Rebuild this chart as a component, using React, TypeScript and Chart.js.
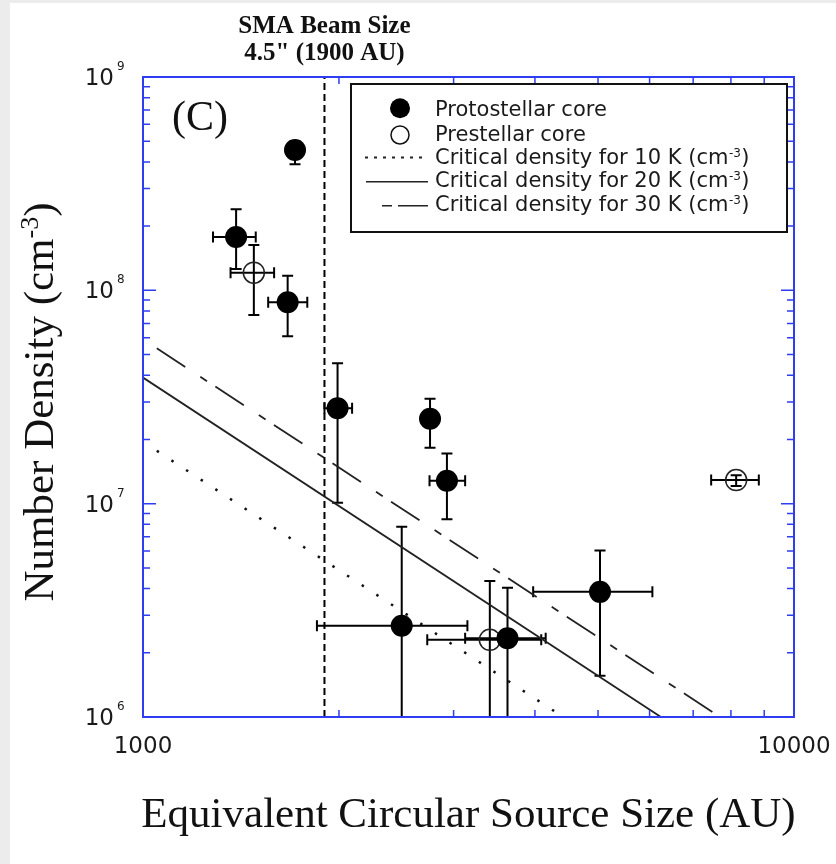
import React, { useEffect, useRef } from "react";
import { Chart, registerables } from "chart.js";
Chart.register(...registerables);

// Protostellar cores (filled)
const protoX = [1712, 1390, 1668, 1990, 2760, 2930, 2497, 3630, 5035];
const protoY = [4.55e8, 1.78e8, 8.8e7, 2.8e7, 2.5e7, 1.28e7, 2.68e6, 2.34e6, 3.86e6];
const protoYLow = [3.9e8, 1.26e8, 6.1e7, 1.01e7, 1.83e7, 8.45e6, 8e5, 8e5, 1.56e6];
const protoYHigh = [5.0e8, 2.4e8, 1.17e8, 4.55e7, 3.1e7, 1.72e7, 7.8e6, 4.04e6, 6.04e6];
const protoXLow = [null, 1281, 1557, 1900, null, 2755, 1850, 3125, 3975];
const protoXHigh = [null, 1490, 1788, 2095, null, 3125, 3150, 4155, 6060];

// Prestellar cores (open)
const preX = [1480, 3410, 8150];
const preY = [1.21e8, 2.3e6, 1.29e7];
const preYLow = [7.66e7, 8e5, 1.21e7];
const preYHigh = [1.63e8, 4.34e6, 1.36e7];
const preXLow = [1363, 2733, 7460];
const preXHigh = [1590, 4090, 8830];

// Critical density lines (endpoints)
const crit10X = [1050, 4420];
const crit10Y = [1.77e7, 1e6];
const crit20X = [1000, 6245];
const crit20Y = [3.9e7, 1e6];
const crit30X = [1050, 7700];
const crit30Y = [5.35e7, 1e6];

// SMA beam size
const beamX = 1900;

// Axes
const xMin = 1000;
const xMax = 10000;
const yMin = 1e6;
const yMax = 1e9;
const xMajorTicks = [1000, 10000];
const xTickLabels = ["1000", "10000"];
const xMinorTicks = [2000, 3000, 4000, 5000, 6000, 7000, 8000, 9000];
const yMajorTicks = [1e6, 1e7, 1e8, 1e9];
const yMinorMult = [2, 3, 4, 5, 6, 7, 8, 9];

const legendLabels = [
  "Protostellar core",
  "Prestellar core",
  "Critical density for 10 K (cm",
  "Critical density for 20 K (cm",
  "Critical density for 30 K (cm",
];

const BLUE = "#2e3df0";
const SANS = '"DejaVu Sans", Verdana, sans-serif';
const SERIF = '"Liberation Serif", "Times New Roman", serif';

const pts = (xs: number[], ys: number[]) => xs.map((v, i) => ({ x: v, y: ys[i] }));

const decor = {
  id: "decor",
  beforeDatasetsDraw(chart: any) {
    const { ctx, chartArea: a } = chart;
    const x = chart.scales.x;
    const y = chart.scales.y;
    ctx.save();
    ctx.beginPath();
    ctx.rect(a.left, a.top, a.right - a.left, a.bottom - a.top);
    ctx.clip();
    ctx.strokeStyle = "#000";
    ctx.lineWidth = 2;
    const cap = 5.5;
    const bars = (xs: number[], ys: number[], yl: any[], yh: any[], xl: any[], xh: any[]) => {
      for (let i = 0; i < xs.length; i++) {
        const px = x.getPixelForValue(xs[i]);
        const py = y.getPixelForValue(ys[i]);
        ctx.beginPath();
        if (yl[i] != null) {
          const a1 = y.getPixelForValue(yl[i]);
          const a2 = y.getPixelForValue(yh[i]);
          ctx.moveTo(px, a1); ctx.lineTo(px, a2);
          ctx.moveTo(px - cap, a1); ctx.lineTo(px + cap, a1);
          ctx.moveTo(px - cap, a2); ctx.lineTo(px + cap, a2);
        }
        if (xl[i] != null) {
          const b1 = x.getPixelForValue(xl[i]);
          const b2 = x.getPixelForValue(xh[i]);
          ctx.moveTo(b1, py); ctx.lineTo(b2, py);
          ctx.moveTo(b1, py - cap); ctx.lineTo(b1, py + cap);
          ctx.moveTo(b2, py - cap); ctx.lineTo(b2, py + cap);
        }
        ctx.stroke();
      }
    };
    bars(protoX, protoY, protoYLow, protoYHigh, protoXLow, protoXHigh);
    bars(preX, preY, preYLow, preYHigh, preXLow, preXHigh);
    ctx.restore();
  },
  afterDraw(chart: any) {
    const { ctx, chartArea: a } = chart;
    const x = chart.scales.x;
    const y = chart.scales.y;
    ctx.save();
    // frame
    ctx.strokeStyle = BLUE;
    ctx.lineWidth = 2;
    ctx.strokeRect(a.left, a.top, a.right - a.left, a.bottom - a.top);
    // ticks
    ctx.lineWidth = 1.5;
    ctx.beginPath();
    const minorLen = 7;
    const majorLen = 13;
    xMinorTicks.forEach((v) => {
      const px = x.getPixelForValue(v);
      ctx.moveTo(px, a.bottom); ctx.lineTo(px, a.bottom - minorLen);
      ctx.moveTo(px, a.top); ctx.lineTo(px, a.top + minorLen);
    });
    yMajorTicks.forEach((v, k) => {
      const py = y.getPixelForValue(v);
      ctx.moveTo(a.left, py); ctx.lineTo(a.left + majorLen, py);
      ctx.moveTo(a.right, py); ctx.lineTo(a.right - majorLen, py);
      if (k < yMajorTicks.length - 1) {
        yMinorMult.forEach((m) => {
          const q = y.getPixelForValue(v * m);
          ctx.moveTo(a.left, q); ctx.lineTo(a.left + minorLen, q);
          ctx.moveTo(a.right, q); ctx.lineTo(a.right - minorLen, q);
        });
      }
    });
    ctx.stroke();

    // tick labels
    ctx.fillStyle = "#1a1a1a";
    ctx.font = `23px ${SANS}`;
    ctx.textAlign = "center";
    ctx.textBaseline = "alphabetic";
    xMajorTicks.forEach((v, i) => {
      ctx.fillText(xTickLabels[i], x.getPixelForValue(v), a.bottom + 36);
    });
    yMajorTicks.forEach((v) => {
      const py = y.getPixelForValue(v);
      ctx.font = `23px ${SANS}`;
      ctx.textAlign = "right";
      ctx.fillText("10", a.left - 29, py + 8);
      ctx.font = `12px ${SANS}`;
      ctx.textAlign = "left";
      ctx.fillText(String(Math.round(Math.log10(v))), a.left - 26, py - 7);
    });

    // x title
    ctx.fillStyle = "#111";
    ctx.font = `43px ${SERIF}`;
    ctx.textAlign = "center";
    ctx.fillText("Equivalent Circular Source Size (AU)", (a.left + a.right) / 2, 824);

    // y title
    ctx.save();
    ctx.translate(43, 399);
    ctx.rotate(-Math.PI / 2);
    ctx.textAlign = "left";
    const t1 = "Number Density (cm";
    const t2 = "-3";
    const t3 = ")";
    ctx.font = `43px ${SERIF}`;
    const w1 = ctx.measureText(t1).width;
    const w3 = ctx.measureText(t3).width;
    ctx.font = `26px ${SERIF}`;
    const w2 = ctx.measureText(t2).width;
    let sx = -(w1 + w2 + w3) / 2;
    ctx.font = `43px ${SERIF}`;
    ctx.fillText(t1, sx, 0);
    ctx.font = `26px ${SERIF}`;
    ctx.fillText(t2, sx + w1, -15);
    ctx.font = `43px ${SERIF}`;
    ctx.fillText(t3, sx + w1 + w2, 0);
    ctx.restore();

    // (C)
    ctx.font = `42px ${SERIF}`;
    ctx.textAlign = "left";
    ctx.fillText("(C)", 162, 127);

    // beam label
    const bx = x.getPixelForValue(beamX);
    ctx.font = `bold 25px ${SERIF}`;
    ctx.textAlign = "center";
    ctx.fillText("SMA Beam Size", bx, 30);
    ctx.fillText('4.5" (1900 AU)', bx, 57);

    // legend
    const L = { l: 341, t: 81, r: 777, b: 229 };
    ctx.fillStyle = "#fff";
    ctx.fillRect(L.l, L.t, L.r - L.l, L.b - L.t);
    ctx.strokeStyle = "#111";
    ctx.lineWidth = 2;
    ctx.strokeRect(L.l, L.t, L.r - L.l, L.b - L.t);
    const baselines = [113.3, 138.3, 160.6, 184.3, 208.3];
    // markers
    ctx.fillStyle = "#000";
    ctx.beginPath();
    ctx.arc(390, 105.3, 10, 0, Math.PI * 2);
    ctx.fill();
    ctx.strokeStyle = "#111";
    ctx.lineWidth = 1.5;
    ctx.beginPath();
    ctx.arc(390, 132, 9, 0, Math.PI * 2);
    ctx.stroke();
    // line samples
    ctx.strokeStyle = "#222";
    ctx.lineWidth = 2;
    ctx.setLineDash([3, 6]);
    ctx.beginPath(); ctx.moveTo(355, 154.5); ctx.lineTo(418, 154.5); ctx.stroke();
    ctx.setLineDash([]);
    ctx.lineWidth = 1.6;
    ctx.beginPath(); ctx.moveTo(356, 178.7); ctx.lineTo(418, 178.7); ctx.stroke();
    ctx.beginPath(); ctx.moveTo(372, 202.7); ctx.lineTo(382, 202.7); ctx.moveTo(388, 202.7); ctx.lineTo(418, 202.7); ctx.stroke();
    // text
    ctx.fillStyle = "#1a1a1a";
    ctx.textAlign = "left";
    legendLabels.forEach((lab, i) => {
      ctx.font = `21px ${SANS}`;
      ctx.fillText(lab, 425, baselines[i]);
      if (i >= 2) {
        const w = ctx.measureText(lab).width;
        ctx.font = `12px ${SANS}`;
        ctx.fillText("-3", 425 + w + 0.5, baselines[i] - 7);
        const ws = ctx.measureText("-3").width;
        ctx.font = `21px ${SANS}`;
        ctx.fillText(")", 425 + w + ws + 1, baselines[i]);
      }
    });
    ctx.restore();
  },
};

export default function App() {
  const ref = useRef<HTMLCanvasElement | null>(null);
  useEffect(() => {
    if (!ref.current) return;
    const chart = new Chart(ref.current, {
      type: "scatter",
      data: {
        datasets: [
          {
            label: "Protostellar core",
            data: pts(protoX, protoY),
            pointRadius: 11,
            pointBackgroundColor: "#000",
            pointBorderColor: "#000",
            pointBorderWidth: 0,
            order: 0,
          } as any,
          {
            label: "Prestellar core",
            data: pts(preX, preY),
            pointRadius: 10.5,
            pointBackgroundColor: "rgba(0,0,0,0)",
            pointBorderColor: "#222",
            pointBorderWidth: 1.5,
            order: 1,
          },
          {
            label: "Critical density for 10 K",
            data: pts(crit10X, crit10Y),
            showLine: true,
            pointRadius: 0,
            borderColor: "#111",
            borderWidth: 2.5,
            borderDash: [2.5, 15],
            order: 2,
          },
          {
            label: "Critical density for 20 K",
            data: pts(crit20X, crit20Y),
            showLine: true,
            pointRadius: 0,
            borderColor: "#222",
            borderWidth: 1.8,
            order: 3,
          },
          {
            label: "Critical density for 30 K",
            data: pts(crit30X, crit30Y),
            showLine: true,
            pointRadius: 0,
            borderColor: "#222",
            borderWidth: 1.8,
            borderDash: [34, 18, 8, 10],
            order: 4,
          },
          {
            label: "SMA beam",
            data: [
              { x: beamX, y: yMin },
              { x: beamX, y: yMax },
            ],
            showLine: true,
            pointRadius: 0,
            borderColor: "#000",
            borderWidth: 2,
            borderDash: [7, 4],
            order: 5,
          },
        ],
      },
      options: {
        responsive: false,
        animation: false,
        devicePixelRatio: 1,
        layout: { padding: { left: 133, right: 42, top: 74, bottom: 147 } },
        plugins: { legend: { display: false }, tooltip: { enabled: false } },
        scales: {
          x: { type: "logarithmic", min: xMin, max: xMax, display: false },
          y: { type: "logarithmic", min: yMin, max: yMax, display: false },
        },
      },
      plugins: [decor],
    });
    return () => chart.destroy();
  }, []);
  return (
    <div style={{ position: "fixed", left: 0, top: 0, width: 836, height: 864, background: "#ececec" }}>
      <canvas
        ref={ref}
        width={826}
        height={861}
        style={{ position: "absolute", left: 10, top: 3, width: 826, height: 861, background: "#fff" }}
      />
    </div>
  );
}
